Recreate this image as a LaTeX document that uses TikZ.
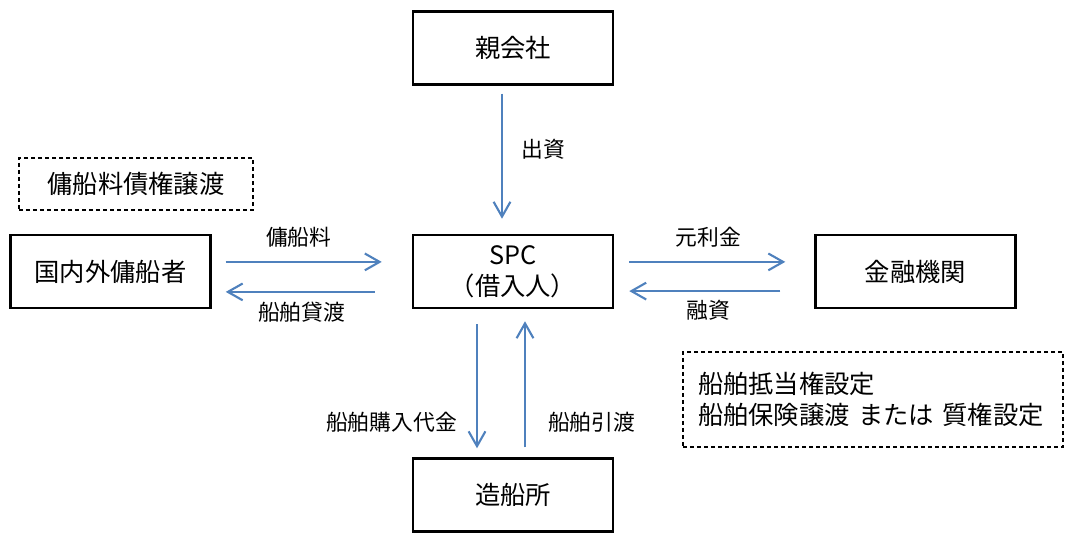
\documentclass[tikz,border=0pt]{standalone}
\usepackage{fontspec}
\setmainfont{Noto Sans CJK JP}
\usetikzlibrary{positioning, arrows.meta}
\definecolor{FlowBlue}{HTML}{4F81BD}
\definecolor{Ink}     {HTML}{000000}

\tikzset{
  party/.style={draw=Ink, line width=1.8pt, minimum width=50mm, minimum height=18.25mm,
                align=center, font=\fontsize{18}{22}\selectfont},
  flow/.style={draw=FlowBlue, line width=1.5pt,
               -{Straight Barb[length=3.7mm, width=4.2mm, line width=1.5pt]}},
  note/.style={draw=Ink, line width=0.8pt, dash pattern=on 1mm off 0.75mm,
               font=\fontsize{18}{22.5}\selectfont},
  lbl/.style={font=\fontsize{15.5}{18}\selectfont, inner sep=0pt}
}

\begin{document}
\begin{tikzpicture}[x=0.25mm, y=-0.25mm]
      \useasboundingbox (0,0) rectangle (1090,553);
      % ── Parties ──
      \node[party] (spc) at (513,271.5) {SPC\\（借入人）};
      \node[party, above=37mm of spc] (parent) {親会社};
      \node[party, left=50mm of spc] (lessee) {国内外傭船者};
      \node[party, right=50mm of spc] (bank) {金融機関};
      \node[party, below=37mm of spc] (yard) {造船所};
      % ── Notes ──
      \node[note, minimum width=58.5mm, minimum height=13mm] (assign) at (136,184) {傭船料債権譲渡};
      \node[note, text width=87.5mm, inner xsep=3.75mm, minimum height=23.75mm, align=left]
            (security) at (873,399.5) {船舶抵当権設定\\船舶保険譲渡 または 質権設定};
      % ── Flows ──
      \draw[flow, shorten <=2mm, shorten >=3.75mm] ([xshift=-2.75mm]parent.south) -- ([xshift=-2.75mm]spc.north)
            node[lbl, pos=0.43, xshift=10.25mm] {出資};
      \draw[flow, shorten <=3.5mm, shorten >=7.5mm] ([yshift=2.4mm]lessee.east) -- ([yshift=2.4mm]spc.west)
            node[lbl, midway, xshift=-3.25mm, yshift=6.1mm] {傭船料};
      \draw[flow, shorten <=9.25mm, shorten >=3.5mm] ([yshift=-5.1mm]spc.west) -- ([yshift=-5.1mm]lessee.east)
            node[lbl, midway, xshift=-2.5mm, yshift=-5mm] {船舶貸渡};
      \draw[flow, shorten <=3.75mm, shorten >=7.25mm] ([yshift=2.4mm]spc.east) -- ([yshift=2.4mm]bank.west)
            node[lbl, midway, xshift=-1.4mm, yshift=6.1mm] {元利金};
      \draw[flow, shorten <=8.5mm, shorten >=3.75mm] ([yshift=-4.9mm]bank.west) -- ([yshift=-4.9mm]spc.east)
            node[lbl, midway, xshift=-1.4mm, yshift=-4.75mm] {融資};
      \draw[flow, shorten <=3.75mm, shorten >=2.25mm] ([xshift=-9mm]spc.south) -- ([xshift=-9mm]yard.north)
            node[lbl, pos=0.76, left=4.75mm] {船舶購入代金};
      \draw[flow, shorten <=2.5mm, shorten >=3mm] ([xshift=3mm]yard.north) -- ([xshift=3mm]spc.south)
            node[lbl, pos=0.24, right=5.5mm] {船舶引渡};
\end{tikzpicture}
\end{document}
